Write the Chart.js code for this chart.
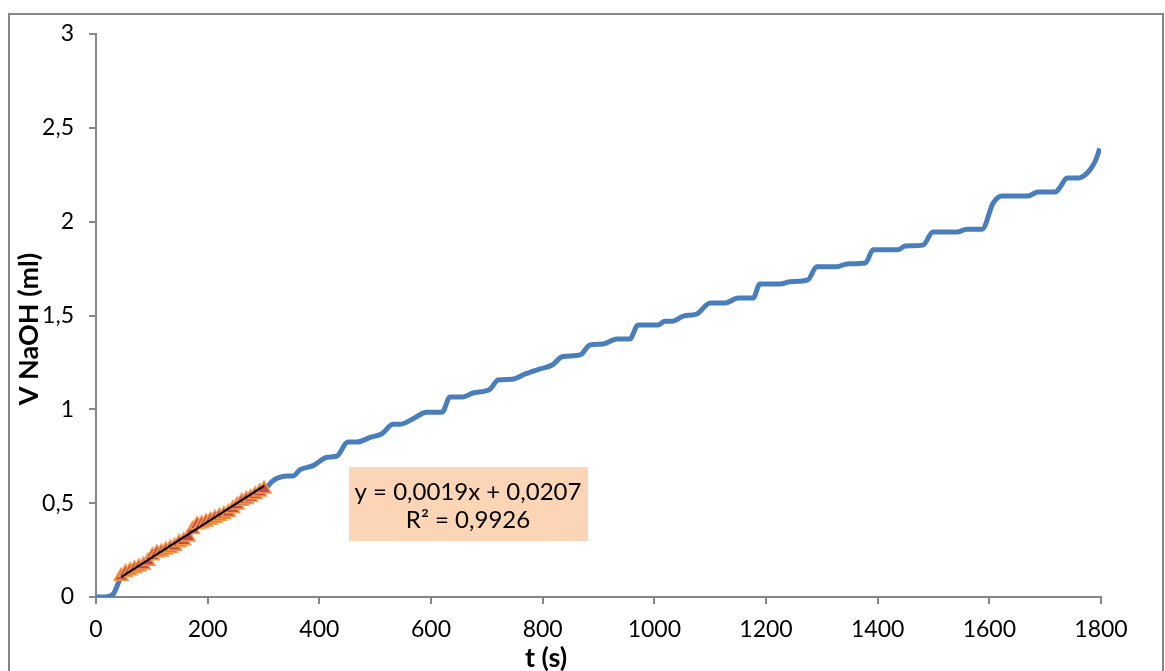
<!DOCTYPE html>
<html lang="fr">
<head>
  <meta charset="UTF-8" />
  <title>V NaOH en fonction du temps</title>
  <script src="https://cdn.jsdelivr.net/npm/chart.js"></script>
  <style>
    * { margin: 0; padding: 0; box-sizing: border-box; }
    body { background: #ffffff; width: 1165px; height: 671px; overflow: hidden; }
    .wrap { position: relative; width: 1165px; height: 671px; }
  </style>
</head>
<body>
  <div class="wrap">
    <canvas id="chart" width="1165" height="671"></canvas>
  </div>

  <script>
    // courbe complète : temps (s) et volume de NaOH (ml)
    const tAll = [0, 15, 25, 32, 38, 45, 53, 61, 69, 77, 85, 93, 101, 109, 117, 125, 133, 141, 149, 157,
      165, 173, 181, 189, 197, 205, 213, 221, 229, 237, 245, 253, 261, 269, 277, 285, 293, 301,
      306, 315, 326, 342, 353, 365, 389, 414, 431, 451, 467, 491, 512, 532, 544, 568, 592, 620,
      634, 657, 675, 706, 720, 745, 770, 795, 817, 835, 867, 885, 908, 933, 956, 971, 1007, 1019,
      1032, 1052, 1076, 1100, 1127, 1150, 1177, 1189, 1225, 1243, 1275, 1291, 1327, 1345, 1378,
      1392, 1437, 1449, 1481, 1499, 1542, 1560, 1587, 1607, 1623, 1669, 1687, 1718, 1727, 1739,
      1759, 1777, 1789, 1798];
    const vAll = [0, 0, 0.005, 0.02, 0.06, 0.11, 0.13, 0.14, 0.15, 0.16, 0.17, 0.19, 0.22, 0.235, 0.24, 0.25, 0.26, 0.27, 0.29, 0.30,
      0.32, 0.36, 0.385, 0.39, 0.40, 0.41, 0.42, 0.43, 0.44, 0.45, 0.47, 0.49, 0.51, 0.52, 0.53, 0.545, 0.56, 0.575,
      0.585, 0.615, 0.635, 0.645, 0.645, 0.677, 0.70, 0.745, 0.75, 0.826, 0.826, 0.85, 0.87, 0.92, 0.92, 0.95, 0.985, 0.985,
      1.066, 1.066, 1.087, 1.108, 1.156, 1.16, 1.19, 1.215, 1.236, 1.28, 1.29, 1.343, 1.348, 1.375, 1.375, 1.45, 1.45, 1.47,
      1.47, 1.497, 1.508, 1.567, 1.567, 1.593, 1.593, 1.668, 1.668, 1.68, 1.69, 1.76, 1.76, 1.775, 1.78,
      1.85, 1.85, 1.87, 1.875, 1.945, 1.945, 1.96, 1.96, 2.10, 2.137, 2.137, 2.158, 2.158, 2.185, 2.233,
      2.233, 2.265, 2.318, 2.39];

    // zone linéaire (triangles) utilisée pour la régression
    const tFit = [45, 53, 61, 69, 77, 85, 93, 101, 109, 117, 125, 133, 141, 149, 157, 165, 173, 181, 189,
      197, 205, 213, 221, 229, 237, 245, 253, 261, 269, 277, 285, 293, 301];
    const vFit = [0.11, 0.13, 0.14, 0.15, 0.16, 0.17, 0.19, 0.22, 0.235, 0.24, 0.25, 0.26, 0.27, 0.29, 0.30, 0.32, 0.36, 0.385, 0.39,
      0.40, 0.41, 0.42, 0.43, 0.44, 0.45, 0.47, 0.49, 0.51, 0.52, 0.53, 0.545, 0.56, 0.575];

    // courbe de tendance (extrémités)
    const tTrend = [45, 301];
    const vTrend = [0.106, 0.592];

    const equationLines = ['y = 0,0019x + 0,0207', 'R² = 0,9926'];
    const xTitle = 't (s)';
    const yTitle = 'V NaOH (ml)';

    const xTicks = [0, 200, 400, 600, 800, 1000, 1200, 1400, 1600, 1800];
    const yTicks = [0, 0.5, 1, 1.5, 2, 2.5, 3];

    const toPoints = (xs, ys) => xs.map((x, i) => ({ x: x, y: ys[i] }));

    const fontFamily = 'Lato, "Open Sans", sans-serif';

    // cadre gris, titres des axes et étiquette de l'équation
    const decorPlugin = {
      id: 'decor',
      afterDraw(chart) {
        const c = chart.ctx;
        c.save();
        c.strokeStyle = '#868686';
        c.lineWidth = 2;
        c.strokeRect(9, 14, 1154, 700);

        c.fillStyle = '#fbd5b5';
        c.fillRect(349, 467, 239, 74);
        c.fillStyle = '#000000';
        c.font = '24px ' + fontFamily;
        c.textAlign = 'center';
        c.textBaseline = 'middle';
        c.fillText(equationLines[0], 468, 492);
        c.fillText(equationLines[1], 468, 520);

        c.font = 'bold 27px ' + fontFamily;
        c.fillText(xTitle, 546, 658);
        c.translate(29, 329);
        c.rotate(-Math.PI / 2);
        c.fillText(yTitle, 0, 0);
        c.restore();
      }
    };

    const ctx = document.getElementById('chart').getContext('2d');
    new Chart(ctx, {
      type: 'line',
      data: {
        datasets: [
          {
            label: 'Tendance',
            data: toPoints(tTrend, vTrend),
            borderColor: '#000000',
            borderWidth: 2,
            pointRadius: 0,
            fill: false,
            order: 0
          },
          {
            label: 'Zone linéaire',
            data: toPoints(tFit, vFit),
            showLine: false,
            pointStyle: 'triangle',
            pointRadius: 8,
            backgroundColor: '#c0504d',
            borderColor: '#f79646',
            borderWidth: 1.5,
            order: 1
          },
          {
            label: 'V NaOH',
            data: toPoints(tAll, vAll),
            borderColor: '#4a7ebb',
            borderWidth: 5,
            pointRadius: 0,
            cubicInterpolationMode: 'monotone',
            fill: false,
            order: 2
          }
        ]
      },
      options: {
        responsive: false,
        animation: false,
        devicePixelRatio: 1,
        layout: { padding: { left: 0, right: 64, top: 34, bottom: 0 } },
        plugins: {
          legend: { display: false },
          tooltip: { enabled: false }
        },
        scales: {
          x: {
            type: 'linear',
            min: 0,
            max: 1800,
            afterBuildTicks: (s) => { s.ticks = xTicks.map(v => ({ value: v })); },
            afterFit: (s) => { s.height = 74; },
            grid: { drawOnChartArea: false, drawTicks: true, tickLength: 7, color: '#868686', lineWidth: 2 },
            border: { color: '#868686', width: 2 },
            ticks: {
              color: '#000000',
              font: { family: fontFamily, size: 23 },
              padding: 12,
              maxRotation: 0,
              callback: (v) => String(v)
            }
          },
          y: {
            min: 0,
            max: 3,
            afterBuildTicks: (s) => { s.ticks = yTicks.map(v => ({ value: v })); },
            afterFit: (s) => { s.width = 96; },
            grid: { drawOnChartArea: false, drawTicks: true, tickLength: 7, color: '#868686', lineWidth: 2 },
            border: { color: '#868686', width: 2 },
            ticks: {
              color: '#000000',
              font: { family: fontFamily, size: 23 },
              padding: 15,
              callback: (v) => String(v).replace('.', ',')
            }
          }
        }
      },
      plugins: [decorPlugin]
    });
  </script>
</body>
</html>
